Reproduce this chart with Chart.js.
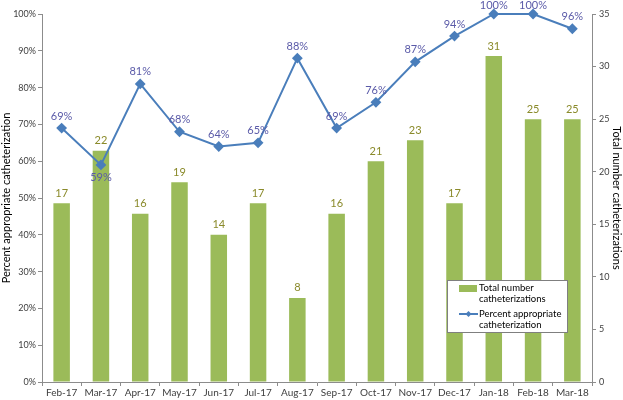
<!DOCTYPE html>
<html>
<head>
<meta charset="utf-8">
<script src="https://cdn.jsdelivr.net/npm/chart.js@4.4.1/dist/chart.umd.min.js"></script>
<style>
  html, body { margin: 0; padding: 0; background: #fff; }
  #wrap { width: 623px; height: 400px; }
</style>
</head>
<body>
<div id="wrap"><canvas id="chart"></canvas></div>
<script>
const months = ['Feb-17','Mar-17','Apr-17','May-17','Jun-17','Jul-17','Aug-17','Sep-17','Oct-17','Nov-17','Dec-17','Jan-18','Feb-18','Mar-18'];
const totalCaths = [17, 22, 16, 19, 14, 17, 8, 16, 21, 23, 17, 31, 25, 25];
const pctAppropriate = [69, 59, 81, 68, 64, 65, 88, 69, 76, 87, 94, 100, 100, 96];

const FONT = 'Lato, "Open Sans", sans-serif';
const axisGray = '#8c8c8c';
const textGray = '#404040';

// value labels over bars and line points
const valueLabels = {
  id: 'valueLabels',
  afterDatasetsDraw(chart) {
    const ctx = chart.ctx;
    ctx.save();
    ctx.font = '11px ' + FONT;
    ctx.textAlign = 'center';
    ctx.textBaseline = 'middle';
    chart.getDatasetMeta(0).data.forEach((bar, i) => {
      ctx.fillStyle = '#8a8a2a';
      ctx.fillText(totalCaths[i], bar.x, bar.y - 10);
    });
    chart.getDatasetMeta(1).data.forEach((pt, i) => {
      ctx.fillStyle = '#5a5aa8';
      const dy = i === 1 ? 13 : (pctAppropriate[i] >= 100 ? -9 : -12);
      ctx.fillText(pctAppropriate[i] + '%', pt.x, pt.y + dy);
    });
    ctx.restore();
  }
};

// legend box inside the plot, Excel style
const boxLegend = {
  id: 'boxLegend',
  afterDraw(chart) {
    const ctx = chart.ctx;
    const x = 447, y = 280, w = 120, h = 52;
    ctx.save();
    ctx.fillStyle = '#fff';
    ctx.fillRect(x, y, w, h);
    ctx.strokeStyle = '#7f7f7f';
    ctx.lineWidth = 1;
    ctx.strokeRect(x + 0.5, y + 0.5, w, h);
    ctx.fillStyle = '#9bbb59';
    ctx.fillRect(x + 12, y + 5, 18, 7);
    ctx.strokeStyle = '#4a7ebb';
    ctx.lineWidth = 2;
    ctx.beginPath();
    ctx.moveTo(x + 12, y + 34);
    ctx.lineTo(x + 31, y + 34);
    ctx.stroke();
    ctx.fillStyle = '#4a7ebb';
    ctx.beginPath();
    ctx.moveTo(x + 21.5, y + 31);
    ctx.lineTo(x + 24.5, y + 34);
    ctx.lineTo(x + 21.5, y + 37);
    ctx.lineTo(x + 18.5, y + 34);
    ctx.closePath();
    ctx.fill();
    ctx.fillStyle = '#000';
    ctx.font = '9.5px ' + FONT;
    ctx.textBaseline = 'middle';
    ctx.textAlign = 'left';
    ctx.fillText('Total number', x + 32, y + 8);
    ctx.fillText('catheterizations', x + 32, y + 19);
    ctx.fillText('Percent appropriate', x + 32, y + 34);
    ctx.fillText('catheterization', x + 32, y + 45);
    ctx.restore();
  }
};

new Chart(document.getElementById('chart'), {
  type: 'bar',
  data: {
    labels: months,
    datasets: [
      {
        type: 'bar',
        label: 'Total number catheterizations',
        data: totalCaths,
        yAxisID: 'y1',
        backgroundColor: '#9bbb59',
        barPercentage: 0.42,
        categoryPercentage: 1,
        order: 2
      },
      {
        type: 'line',
        label: 'Percent appropriate catheterization',
        data: pctAppropriate,
        yAxisID: 'y',
        borderColor: '#4a7ebb',
        backgroundColor: '#4a7ebb',
        borderWidth: 2,
        pointStyle: 'rectRot',
        pointRadius: 4,
        pointHoverRadius: 4,
        tension: 0,
        clip: false,
        order: 1
      }
    ]
  },
  options: {
    responsive: true,
    maintainAspectRatio: false,
    animation: false,
    layout: { padding: { top: 14, left: 0, right: 0, bottom: 0 } },
    plugins: {
      legend: { display: false },
      tooltip: { enabled: false }
    },
    scales: {
      x: {
        grid: { display: true, drawOnChartArea: false, offset: true, color: axisGray, tickLength: 4 },
        border: { color: axisGray },
        ticks: { color: textGray, font: { family: FONT, size: 10 }, maxRotation: 0, autoSkip: false, padding: 1 },
        afterFit(s) { s.height = 18; }
      },
      y: {
        position: 'left',
        min: 0, max: 100,
        grid: { drawOnChartArea: false, color: axisGray, tickLength: 4 },
        border: { color: axisGray },
        ticks: { stepSize: 10, color: textGray, font: { family: FONT, size: 9 }, padding: 2, callback: v => v + '%' },
        title: { display: true, text: 'Percent appropriate catheterization', color: '#000', font: { family: FONT, size: 11 }, padding: 0 },
        afterFit(s) { s.width = 42; }
      },
      y1: {
        position: 'right',
        min: 0, max: 35,
        grid: { drawOnChartArea: false, color: axisGray, tickLength: 4 },
        border: { color: axisGray },
        ticks: { stepSize: 5, color: textGray, font: { family: FONT, size: 9 }, padding: 3 },
        title: { display: true, text: 'Total number catheterizations', color: '#000', font: { family: FONT, size: 11 }, padding: 0 },
        afterFit(s) { s.width = 31; }
      }
    }
  },
  plugins: [valueLabels, boxLegend]
});
</script>
</body>
</html>
